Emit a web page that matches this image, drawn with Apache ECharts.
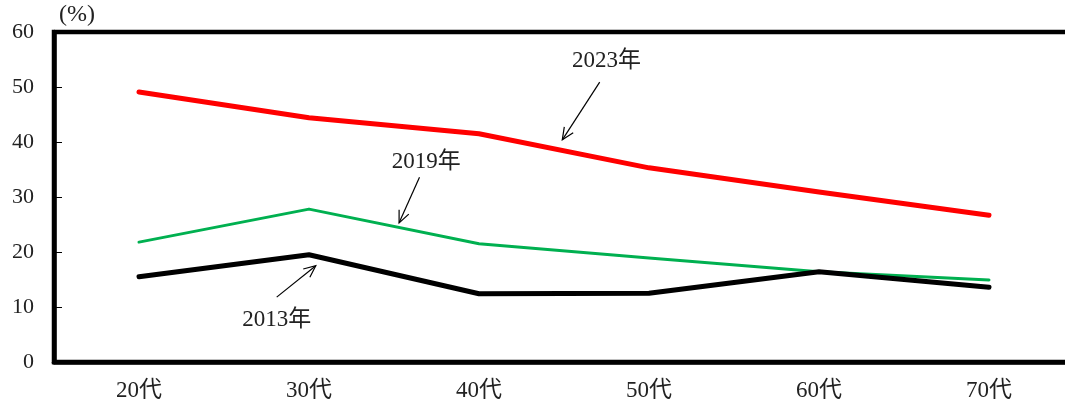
<!DOCTYPE html>
<html>
<head>
<meta charset="utf-8">
<script src="https://cdn.jsdelivr.net/npm/echarts@6/dist/echarts.min.js"></script>
<style>
html,body{margin:0;padding:0;background:#fff;}
#chart{width:1065px;height:406px;}
</style>
</head>
<body>
<div id="chart"></div>
<script>
// ---- data ----
const categories = ['20代', '30代', '40代', '50代', '60代', '70代'];
const values2013 = [15.5, 19.5, 12.4, 12.5, 16.4, 13.6];
const values2019 = [21.8, 27.8, 21.5, 18.9, 16.4, 14.9];
const values2023 = [49.1, 44.4, 41.5, 35.3, 30.9, 26.7];
const yMin = 0, yMax = 60, yStep = 10;
const yUnit = '(%)';
// annotations (data units: x = category index, y = %)
const annoLabels = ['2023年', '2019年', '2013年'];
const annoTextAt = [[2.75, 54.7], [1.69, 36.4], [0.81, 7.6]];
const annoArrowFrom = [[2.71, 50.9], [1.65, 33.6], [0.81, 11.8]];
const annoArrowTo = [[2.49, 40.4], [1.53, 25.3], [1.04, 17.5]];

const FONT = '"Liberation Serif", "Noto Sans CJK JP", serif';
const chart = echarts.init(document.getElementById('chart'), null, {renderer: 'canvas'});

const annoData = annoLabels.map((t, i) => [
  annoTextAt[i][0], annoTextAt[i][1],
  annoArrowFrom[i][0], annoArrowFrom[i][1],
  annoArrowTo[i][0], annoArrowTo[i][1], t
]);

function lineSeries(name, data, color, width, z) {
  return {
    name, type: 'line', data, z,
    symbol: 'none', showSymbol: false,
    lineStyle: {color, width, cap: 'round', join: 'round'},
    emphasis: {disabled: true},
    animation: false
  };
}

chart.setOption({
  animation: false,
  grid: {
    left: 54, top: 32, width: 1020, height: 330,
    outerBoundsMode: 'none', containLabel: false,
    show: true, borderColor: '#000', borderWidth: 4.5,
    backgroundColor: 'transparent'
  },
  xAxis: [{
    type: 'category', data: categories, boundaryGap: true,
    axisLine: {onZero: false, lineStyle: {color: '#000', width: 4.5}},
    axisTick: {inside: true, length: 8, lineStyle: {color: '#000', width: 1}},
    axisLabel: {color: '#222', fontFamily: FONT, fontSize: 23, margin: 17},
    splitLine: {show: false}
  }, {
    type: 'value', min: -0.5, max: 5.5, show: false, gridIndex: 0
  }],
  yAxis: {
    type: 'value', min: yMin, max: yMax, interval: yStep,
    name: yUnit, nameLocation: 'end', nameGap: 5,
    nameTextStyle: {color: '#222', fontFamily: FONT, fontSize: 24, align: 'left', padding: [0, 0, 0, 5]},
    axisLine: {show: true, onZero: false, lineStyle: {color: '#000', width: 4.5}},
    axisTick: {show: true, inside: true, length: 8, lineStyle: {color: '#000', width: 1}},
    axisLabel: {color: '#222', fontFamily: FONT, fontSize: 22, margin: 20},
    splitLine: {show: false}
  },
  series: [
    lineSeries('2019年', values2019, '#00B050', 3, 3),
    lineSeries('2013年', values2013, '#000000', 5, 4),
    lineSeries('2023年', values2023, '#FF0000', 5, 5),
    {
      type: 'custom', xAxisIndex: 1, yAxisIndex: 0, z: 10,
      data: annoData, silent: true,
      renderItem: function (params, api) {
        const t = api.coord([api.value(0), api.value(1)]);
        const a = api.coord([api.value(2), api.value(3)]);
        const b = api.coord([api.value(4), api.value(5)]);
        const ang = Math.atan2(b[1] - a[1], b[0] - a[0]);
        const L = 13, spread = 0.42;
        const h1 = [b[0] - L * Math.cos(ang - spread), b[1] - L * Math.sin(ang - spread)];
        const h2 = [b[0] - L * Math.cos(ang + spread), b[1] - L * Math.sin(ang + spread)];
        const ls = {stroke: '#000', lineWidth: 1.2};
        return {
          type: 'group',
          children: [
            {type: 'line', shape: {x1: a[0], y1: a[1], x2: b[0], y2: b[1]}, style: ls},
            {type: 'polyline', shape: {points: [h1, b, h2]}, style: Object.assign({fill: 'none'}, ls)},
            {type: 'text', x: t[0], y: t[1], style: {
              text: annoLabels[params.dataIndex], fill: '#222',
              font: '23px ' + FONT, align: 'center', verticalAlign: 'middle'
            }}
          ]
        };
      }
    }
  ]
});
</script>
</body>
</html>
